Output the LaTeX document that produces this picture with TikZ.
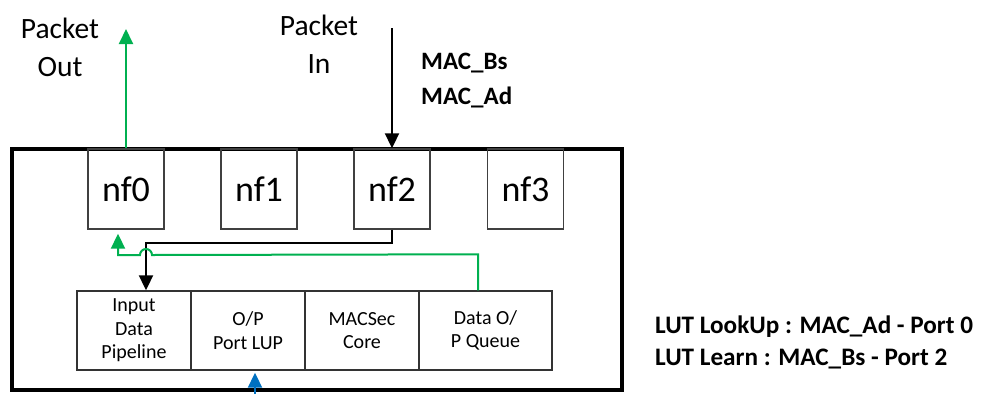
\documentclass[tikz,border=0pt]{standalone}
\usepackage{fontspec}
\setmainfont{Carlito}
\usetikzlibrary{arrows.meta}
\definecolor{pgreen}{RGB}{0,176,80}
\definecolor{pblue}{RGB}{0,112,192}
\begin{document}
\begin{tikzpicture}[x=1pt,y=-1pt,
  outerbox/.style={draw, line width=3.2pt, minimum width=610pt, minimum height=241pt, inner sep=0pt},
  nfbox/.style={draw=black!75, line width=1.4pt, minimum width=76pt, minimum height=80pt, inner sep=0pt, font=\fontsize{36}{40}\selectfont},
  unitbox/.style={draw=black!80, line width=1.4pt, minimum height=79pt, inner sep=0pt, align=center, font=\fontsize{20}{23.5}\selectfont},
  conn/.style={line width=2pt},
  tip/.style={-{Triangle[length=15pt,width=14pt]}},
  lbl/.style={align=center, inner sep=0pt, font=\fontsize{29.5}{38}\selectfont},
  boldlbl/.style={align=left, anchor=west, inner sep=0pt, font=\bfseries\fontsize{25}{35}\selectfont}
]
\useasboundingbox (0,0) rectangle (981,394);

% outer switch box
\node[outerbox] (sw) at (317,269.5) {};

% ports
\node[nfbox] (nf0) at (126,189) {nf0};
\node[nfbox] (nf1) at (259,189) {nf1};
\node[nfbox] (nf2) at (392,189) {nf2};
\node[nfbox] (nf3) at (525.5,189) {nf3};

% pipeline units
\node[unitbox, minimum width=114pt] (ip) at (134,330.5) {Input\\Data\\Pipeline};
\node[unitbox, minimum width=114pt] (lup) at (248,330.5) {O/P\\Port LUP};
\node[unitbox, minimum width=114pt] (core) at (362,330.5) {MACSec\\Core};
\node[unitbox, minimum width=133pt] (queue) at (485.5,330.5) {Data O/\\P Queue};

% labels
\node[lbl] (pout) at (60,47) {Packet\\Out};
\node[lbl] (pin) at (319,44) {Packet\\In};
\node[boldlbl] (mac) at (421,81) {MAC\_Bs\\MAC\_Ad};
\node[boldlbl, font=\bfseries\fontsize{25.2}{32}\selectfont] (lut) at (655,342) {LUT LookUp : MAC\_Ad - Port 0\\LUT Learn : MAC\_Bs - Port 2};

% connectors
\coordinate (outend) at (126,29);
\coordinate (instart) at (392,28);
\coordinate (bstart) at (255,394);

\draw[conn, pgreen, tip] (nf0.north) -- (outend);
\draw[conn, tip] (instart) -- (nf2.north);
\draw[conn, tip] (nf2.south) -- ++(0,13) -| ([xshift=12pt]ip.north);
\draw[conn, pgreen, tip, shorten >=4pt] ([xshift=-7.5pt]queue.north) -- ++(0,-36) -- (152,255) arc(0:-180:6) -- (118,255) -- ([xshift=-8pt]nf0.south);
\draw[conn, pblue, tip, shorten >=2pt] (bstart) -- ([xshift=7pt]lup.south);
\end{tikzpicture}
\end{document}
